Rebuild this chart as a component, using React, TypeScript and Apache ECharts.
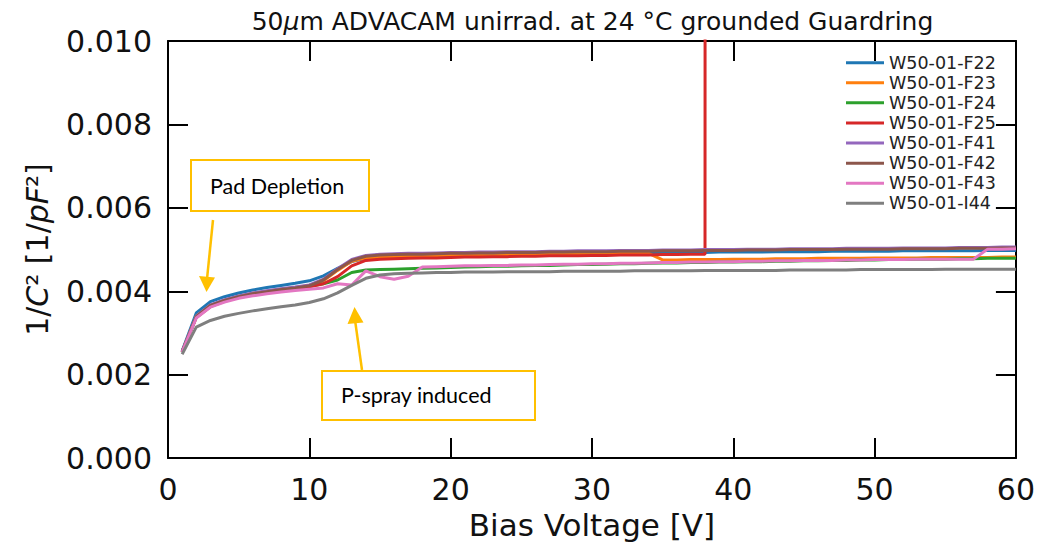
import React, { useEffect, useRef } from "react";
import * as echarts from "echarts";

const voltages = [
  1, 2, 3, 4, 5, 6, 7, 8, 9, 10, 11, 12, 13, 14, 15, 16, 17, 18, 19, 20,
  21, 22, 23, 24, 25, 26, 27, 28, 29, 30, 31, 32, 33, 34, 35, 36, 37, 38, 39, 40,
  41, 42, 43, 44, 45, 46, 47, 48, 49, 50, 51, 52, 53, 54, 55, 56, 57, 58, 59, 60,
];

const seriesNames = [
  "W50-01-F22", "W50-01-F23", "W50-01-F24", "W50-01-F25",
  "W50-01-F41", "W50-01-F42", "W50-01-F43", "W50-01-I44",
];

const colors = ["#1f77b4", "#ff7f0e", "#2ca02c", "#d62728", "#9467bd", "#8c564b", "#e377c2", "#7f7f7f"];

const f22 = [
  0.00257, 0.00348, 0.00375, 0.00387, 0.00396, 0.00403, 0.00409, 0.00414, 0.00419, 0.00425,
  0.00437, 0.00455, 0.00471, 0.00479, 0.00482, 0.00483, 0.00484, 0.00485, 0.00486, 0.00486,
  0.00487, 0.00487, 0.00488, 0.00488, 0.00489, 0.00489, 0.0049, 0.0049, 0.0049, 0.00491,
  0.00491, 0.00492, 0.00492, 0.00492, 0.00493, 0.00493, 0.00493, 0.00493, 0.00494, 0.00494,
  0.00494, 0.00494, 0.00495, 0.00495, 0.00495, 0.00495, 0.00496, 0.00496, 0.00496, 0.00496,
  0.00496, 0.00497, 0.00497, 0.00497, 0.00497, 0.00497, 0.00497, 0.00498, 0.00498, 0.00498,
];
const f23 = [
  0.00255, 0.0034, 0.00366, 0.00378, 0.00388, 0.00395, 0.004, 0.00405, 0.00409, 0.00414,
  0.00425, 0.0045, 0.00472, 0.0048, 0.00482, 0.00483, 0.00484, 0.00485, 0.00486, 0.00487,
  0.00487, 0.00488, 0.00488, 0.00488, 0.00489, 0.00489, 0.00489, 0.0049, 0.0049, 0.0049,
  0.0049, 0.00491, 0.00491, 0.00491, 0.00475, 0.00475, 0.00476, 0.00476, 0.00476, 0.00477,
  0.00477, 0.00477, 0.00478, 0.00478, 0.00478, 0.00479, 0.00479, 0.00479, 0.00479, 0.0048,
  0.0048, 0.0048, 0.0048, 0.00481, 0.00481, 0.00481, 0.00481, 0.00481, 0.00482, 0.00482,
];
const f24 = [
  0.00255, 0.00338, 0.00365, 0.00377, 0.00386, 0.00393, 0.00398, 0.00403, 0.00407, 0.00412,
  0.00418, 0.00427, 0.00445, 0.00451, 0.00452, 0.00453, 0.00454, 0.00455, 0.00456, 0.00457,
  0.00458, 0.00459, 0.0046, 0.0046, 0.00461, 0.00462, 0.00462, 0.00463, 0.00464, 0.00464,
  0.00465, 0.00466, 0.00466, 0.00467, 0.00468, 0.00468, 0.00469, 0.00469, 0.0047, 0.0047,
  0.00471, 0.00471, 0.00472, 0.00472, 0.00473, 0.00473, 0.00474, 0.00474, 0.00475, 0.00475,
  0.00476, 0.00476, 0.00477, 0.00477, 0.00477, 0.00478, 0.00478, 0.00479, 0.00479, 0.00479,
];
const f25 = [
  0.00254, 0.00337, 0.00363, 0.00376, 0.00385, 0.00392, 0.00397, 0.00402, 0.00406, 0.00411,
  0.00418, 0.00435, 0.00461, 0.00474, 0.00477, 0.00478, 0.00479, 0.0048, 0.0048, 0.00481,
  0.00482, 0.00482, 0.00483, 0.00483, 0.00484, 0.00484, 0.00485, 0.00485, 0.00485, 0.00486,
  0.00486, 0.00487, 0.00487, 0.00487, 0.00488, 0.00488, 0.00489, 0.00489, 1.2,
];
const f41 = [
  0.00256, 0.0034, 0.00367, 0.0038, 0.00389, 0.00396, 0.00401, 0.00406, 0.0041, 0.00415,
  0.00429, 0.00454, 0.00476, 0.00486, 0.00489, 0.0049, 0.00491, 0.00491, 0.00492, 0.00493,
  0.00493, 0.00494, 0.00494, 0.00495, 0.00495, 0.00495, 0.00496, 0.00496, 0.00497, 0.00497,
  0.00497, 0.00498, 0.00498, 0.00498, 0.00499, 0.00499, 0.00499, 0.005, 0.005, 0.005,
  0.00501, 0.00501, 0.00501, 0.00502, 0.00502, 0.00502, 0.00502, 0.00503, 0.00503, 0.00503,
  0.00503, 0.00504, 0.00504, 0.00504, 0.00504, 0.00505, 0.00505, 0.00505, 0.00506, 0.00506,
];
const f42 = [
  0.00255, 0.00339, 0.00366, 0.00378, 0.00387, 0.00394, 0.00399, 0.00404, 0.00408, 0.00413,
  0.00427, 0.00452, 0.00474, 0.00484, 0.00487, 0.00488, 0.00489, 0.00489, 0.0049, 0.00491,
  0.00491, 0.00492, 0.00492, 0.00493, 0.00493, 0.00493, 0.00494, 0.00494, 0.00495, 0.00495,
  0.00495, 0.00496, 0.00496, 0.00496, 0.00497, 0.00497, 0.00497, 0.00498, 0.00498, 0.00498,
  0.00499, 0.00499, 0.00499, 0.005, 0.005, 0.005, 0.005, 0.00501, 0.00501, 0.00501,
  0.00501, 0.00502, 0.00502, 0.00502, 0.00502, 0.00503, 0.00503, 0.00503, 0.00504, 0.00504,
];
const f43 = [
  0.00254, 0.00336, 0.00362, 0.00374, 0.00383, 0.00389, 0.00394, 0.00398, 0.00402, 0.00405,
  0.00408, 0.00418, 0.00415, 0.00449, 0.00435, 0.00429, 0.00436, 0.00458, 0.00459, 0.0046,
  0.00461, 0.00461, 0.00462, 0.00462, 0.00463, 0.00463, 0.00464, 0.00465, 0.00465, 0.00466,
  0.00466, 0.00467, 0.00467, 0.00468, 0.00469, 0.00469, 0.0047, 0.0047, 0.00471, 0.00471,
  0.00472, 0.00472, 0.00473, 0.00473, 0.00474, 0.00474, 0.00474, 0.00475, 0.00475, 0.00476,
  0.00476, 0.00476, 0.00477, 0.00477, 0.00477, 0.00477, 0.00477, 0.00501, 0.00501, 0.00502,
];
const i44 = [
  0.00249, 0.00314, 0.0033, 0.0034, 0.00347, 0.00353, 0.00358, 0.00363, 0.00367, 0.00373,
  0.00382, 0.00396, 0.00414, 0.00431, 0.00439, 0.00442, 0.00443, 0.00444, 0.00445, 0.00445,
  0.00446, 0.00446, 0.00446, 0.00447, 0.00447, 0.00447, 0.00447, 0.00448, 0.00448, 0.00448,
  0.00448, 0.00448, 0.00449, 0.00449, 0.00449, 0.00449, 0.00449, 0.0045, 0.0045, 0.0045,
  0.0045, 0.0045, 0.0045, 0.00451, 0.00451, 0.00451, 0.00451, 0.00451, 0.00452, 0.00452,
  0.00452, 0.00452, 0.00452, 0.00452, 0.00453, 0.00453, 0.00453, 0.00453, 0.00453, 0.00453,
];

const allSeries = [f22, f23, f24, f25, f41, f42, f43, i44];

const xTicks = { min: 0, max: 60, interval: 10 };
const yTicks = { min: 0, max: 0.01, interval: 0.002 };

const FONT = "DejaVu Sans";
const ANNOT = "#FFC000";
const NOTE_FONT = "Lato";

export default function App() {
  const ref = useRef<HTMLDivElement>(null);

  useEffect(() => {
    if (!ref.current) return;
    const chart = echarts.init(ref.current, undefined, { renderer: "svg" });

    const frameAxis = (extra: any) => ({
      axisLine: { show: true, onZero: false, lineStyle: { color: "#000", width: 2 } },
      axisTick: { show: true, inside: true, length: 20, lineStyle: { color: "#000", width: 2 } },
      splitLine: { show: false },
      ...extra,
    });

    chart.setOption({
      animation: false,
      backgroundColor: "#fff",
      textStyle: { fontFamily: FONT },
      grid: { left: 168, right: 21, top: 41, bottom: 83, containLabel: false },
      legend: {
        data: seriesNames,
        orient: "vertical",
        left: 846,
        top: 52.6,
        padding: 0,
        icon: "rect",
        itemWidth: 38,
        itemHeight: 3,
        itemGap: 0,
        selectedMode: false,
        textStyle: { fontFamily: FONT, fontSize: 17.5, color: "#222", lineHeight: 20.1 },
      },
      xAxis: [
        frameAxis({
          type: "value",
          position: "bottom",
          ...xTicks,
          name: "Bias Voltage [V]",
          nameLocation: "middle",
          nameGap: 46,
          nameTextStyle: { fontFamily: FONT, fontSize: 31, color: "#111" },
          axisLabel: { fontFamily: FONT, fontSize: 30, color: "#111", margin: 16 },
        }),
        frameAxis({
          type: "value",
          position: "top",
          ...xTicks,
          axisLabel: { show: false },
        }),
      ],
      yAxis: [
        frameAxis({
          type: "value",
          position: "left",
          ...yTicks,
          name: "1/{i|C}² [1/{i|pF}²]",
          nameLocation: "middle",
          nameGap: 116,
          nameTextStyle: {
            fontFamily: FONT,
            fontSize: 30,
            color: "#111",
            rich: { i: { fontFamily: FONT, fontSize: 30, fontStyle: "italic", color: "#111" } },
          },
          axisLabel: {
            fontFamily: FONT,
            fontSize: 30,
            color: "#111",
            margin: 16,
            formatter: (v: number) => v.toFixed(3),
          },
        }),
        frameAxis({
          type: "value",
          position: "right",
          ...yTicks,
          axisLabel: { show: false },
        }),
      ],
      series: allSeries.map((vals, k) => ({
        name: seriesNames[k],
        type: "line",
        xAxisIndex: 0,
        yAxisIndex: 0,
        data: vals.map((v, i) => [voltages[i], v]),
        showSymbol: false,
        symbol: "none",
        clip: true,
        color: colors[k],
        lineStyle: { color: colors[k], width: 3 },
        emphasis: { disabled: true },
      })),
      graphic: [
        {
          type: "text",
          x: 592.5,
          y: 21,
          style: {
            text: "50{i|μ}m ADVACAM unirrad. at 24 °C grounded Guardring",
            fontFamily: FONT,
            fontSize: 25,
            fill: "#111",
            align: "center",
            verticalAlign: "middle",
            rich: { i: { fontFamily: FONT, fontSize: 25, fontStyle: "italic", fill: "#111" } },
          },
        },
        {
          type: "rect",
          shape: { x: 191, y: 160, width: 178, height: 51 },
          style: { fill: "#fff", stroke: ANNOT, lineWidth: 2 },
        },
        {
          type: "text",
          x: 210,
          y: 186,
          style: { text: "Pad Depletion", fontFamily: NOTE_FONT, fontSize: 21.5, fill: "#000", align: "left", verticalAlign: "middle" },
        },
        {
          type: "line",
          shape: { x1: 213, y1: 220, x2: 207, y2: 279 },
          style: { stroke: ANNOT, lineWidth: 2.5 },
        },
        {
          type: "polygon",
          shape: { points: [[199, 276], [215, 277.5], [206.5, 292]] },
          style: { fill: ANNOT },
        },
        {
          type: "rect",
          shape: { x: 322, y: 371, width: 213, height: 49 },
          style: { fill: "#fff", stroke: ANNOT, lineWidth: 2 },
        },
        {
          type: "text",
          x: 341,
          y: 395,
          style: { text: "P-spray induced", fontFamily: NOTE_FONT, fontSize: 21.5, fill: "#000", align: "left", verticalAlign: "middle" },
        },
        {
          type: "line",
          shape: { x1: 362, y1: 370, x2: 355, y2: 320 },
          style: { stroke: ANNOT, lineWidth: 2.5 },
        },
        {
          type: "polygon",
          shape: { points: [[347.5, 324], [363.5, 322.5], [354.5, 307]] },
          style: { fill: ANNOT },
        },
      ],
    });

    return () => chart.dispose();
  }, []);

  return <div ref={ref} style={{ position: "absolute", left: 0, top: 0, width: 1038, height: 545 }} />;
}
